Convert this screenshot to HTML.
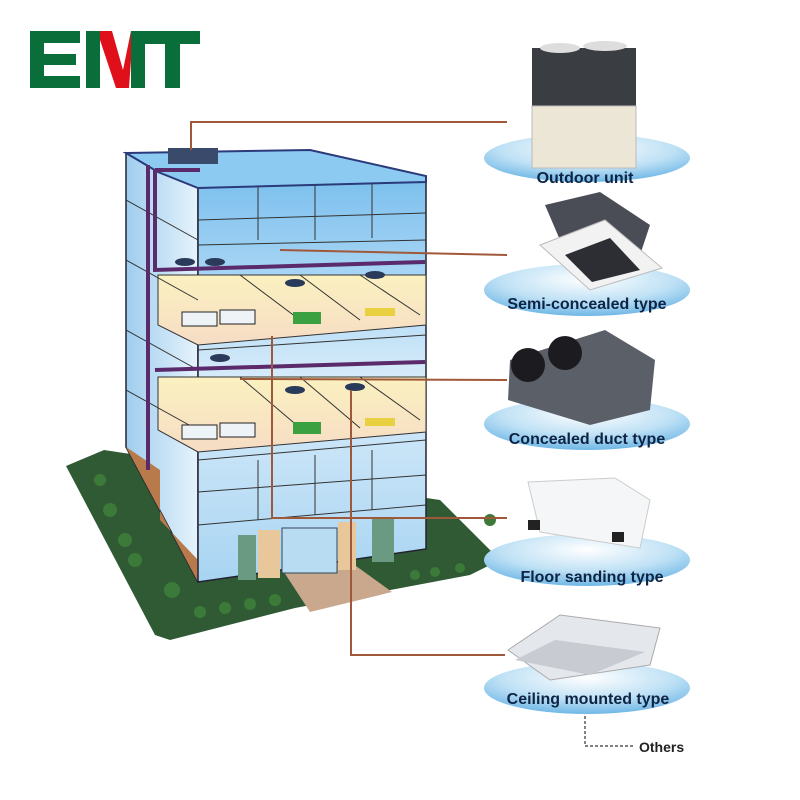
<!DOCTYPE html>
<html><head><meta charset="utf-8"><style>
html,body{margin:0;padding:0;background:#fff;}
svg{display:block;}
text{font-family:"Liberation Sans",sans-serif;}
</style></head><body>
<svg width="800" height="800" viewBox="0 0 800 800" xmlns="http://www.w3.org/2000/svg">
<defs>
<linearGradient id="glass" x1="0" y1="0" x2="0" y2="1">
<stop offset="0" stop-color="#7cc0ee"/><stop offset="0.5" stop-color="#d8ecfa"/><stop offset="1" stop-color="#a8d4f2"/>
</linearGradient>
<linearGradient id="glass2" x1="0" y1="0" x2="1" y2="0">
<stop offset="0" stop-color="#9fcdee"/><stop offset="1" stop-color="#e6f3fc"/>
</linearGradient>
<radialGradient id="ell" cx="0.5" cy="0.3" r="0.7">
<stop offset="0" stop-color="#ffffff"/><stop offset="0.6" stop-color="#bfe1f5"/><stop offset="1" stop-color="#6fb7e6"/>
</radialGradient>
<linearGradient id="floor" x1="0" y1="0" x2="0" y2="1">
<stop offset="0" stop-color="#fbf1c0"/><stop offset="1" stop-color="#f6dcc4"/>
</linearGradient>
</defs>

<!-- logo -->
<g fill="#0a6e3a">
<rect x="30" y="31" width="14" height="57"/>
<rect x="30" y="31" width="50" height="12"/>
<rect x="30" y="54" width="46" height="11"/>
<rect x="30" y="76" width="50" height="12"/>
<rect x="86" y="31" width="14" height="57"/>
<rect x="131" y="31" width="14" height="57"/>
<rect x="145" y="31" width="55" height="13"/>
<rect x="165" y="31" width="15" height="57"/>
</g>
<polygon points="100,31 112,31 123,70 131,31 131,60 129,88 116,88 100,40" fill="#e0101a"/>
<text x="0" y="0" font-size="1" fill="#fff">EMT</text>

<!-- ground -->
<polygon points="66,466 104,450 440,500 500,560 470,575 295,608 170,640 155,635" fill="#2f5a34"/>
<polygon points="280,566 345,558 392,592 310,612" fill="#c9a88e"/>
<g fill="#3c7a3a">
<circle cx="100" cy="480" r="6"/><circle cx="110" cy="510" r="7"/><circle cx="125" cy="540" r="7"/><circle cx="135" cy="560" r="7"/><circle cx="172" cy="590" r="8"/><circle cx="200" cy="612" r="6"/><circle cx="225" cy="608" r="6"/><circle cx="250" cy="604" r="6"/><circle cx="275" cy="600" r="6"/><circle cx="415" cy="575" r="5"/><circle cx="435" cy="572" r="5"/><circle cx="460" cy="568" r="5"/><circle cx="490" cy="520" r="6"/>
</g>

<!-- building left face -->
<polygon points="126,153 158,172 198,188 198,582 126,447" fill="url(#glass2)" stroke="#223" stroke-width="1.5"/>
<polygon points="126,447 160,470 160,520 198,560 198,582" fill="#b87a4a"/>
<!-- front face -->
<polygon points="198,188 426,180 426,549 198,582" fill="url(#glass)" stroke="#223" stroke-width="1.5"/>
<!-- roof -->
<polygon points="126,153 310,150 426,176 426,182 198,188 158,172" fill="#8ccaf2" stroke="#2a3a7a" stroke-width="2"/>
<!-- floors yellow -->
<polygon points="158,275 426,275 426,325 198,345 158,325" fill="url(#floor)" stroke="#333" stroke-width="1"/>
<polygon points="158,377 426,377 426,432 198,452 158,430" fill="url(#floor)" stroke="#333" stroke-width="1"/>
<g stroke="#333" stroke-width="1" fill="none">
<line x1="240" y1="275" x2="300" y2="320"/><line x1="300" y1="275" x2="360" y2="320"/><line x1="360" y1="275" x2="420" y2="315"/>
<line x1="240" y1="377" x2="300" y2="428"/><line x1="300" y1="377" x2="360" y2="428"/><line x1="360" y1="377" x2="420" y2="420"/>
<line x1="198" y1="220" x2="426" y2="213"/><line x1="198" y1="245" x2="426" y2="240"/>
<line x1="198" y1="350" x2="426" y2="335"/><line x1="198" y1="460" x2="426" y2="440"/>
<line x1="198" y1="492" x2="426" y2="475"/><line x1="198" y1="525" x2="426" y2="505"/>
<line x1="258" y1="187" x2="258" y2="240"/><line x1="315" y1="185" x2="315" y2="240"/><line x1="372" y1="183" x2="372" y2="238"/>
<line x1="258" y1="460" x2="258" y2="520"/><line x1="315" y1="455" x2="315" y2="515"/><line x1="372" y1="450" x2="372" y2="510"/>
<line x1="126" y1="200" x2="198" y2="240"/><line x1="126" y1="260" x2="198" y2="300"/><line x1="126" y1="330" x2="198" y2="370"/><line x1="126" y1="390" x2="198" y2="430"/>
</g>
<!-- entrance -->
<rect x="238" y="535" width="18" height="45" fill="#6a9a82"/>
<rect x="258" y="530" width="22" height="48" fill="#e8c89a"/>
<rect x="282" y="528" width="55" height="45" fill="#b8dcf2" stroke="#345" stroke-width="1"/>
<rect x="338" y="522" width="18" height="48" fill="#e8c89a"/>
<rect x="372" y="517" width="22" height="45" fill="#6a9a82"/>
<!-- units on roof -->
<rect x="168" y="148" width="50" height="16" fill="#3a4a6a"/>
<!-- purple pipes -->
<g stroke="#5a2a6a" stroke-width="4" fill="none">
<polyline points="148,165 148,470"/>
<polyline points="155,170 155,270 425,262"/>
<polyline points="155,370 425,362"/>
<polyline points="155,170 200,170"/>
</g>
<g fill="#2a3a5a">
<ellipse cx="185" cy="262" rx="10" ry="4"/><ellipse cx="215" cy="262" rx="10" ry="4"/><ellipse cx="295" cy="283" rx="10" ry="4"/><ellipse cx="375" cy="275" rx="10" ry="4"/>
<ellipse cx="220" cy="358" rx="10" ry="4"/><ellipse cx="295" cy="390" rx="10" ry="4"/><ellipse cx="355" cy="387" rx="10" ry="4"/>
</g>
<g fill="#eef3f8" stroke="#222">
<rect x="182" y="312" width="35" height="14"/><rect x="220" y="310" width="35" height="14"/>
<rect x="182" y="425" width="35" height="14"/><rect x="220" y="423" width="35" height="14"/>
</g>
<g fill="#3aa040"><rect x="293" y="312" width="28" height="12"/><rect x="293" y="422" width="28" height="12"/></g>
<g fill="#e8d040"><rect x="365" y="308" width="30" height="8"/><rect x="365" y="418" width="30" height="8"/></g>

<!-- connectors -->
<g stroke="#a0583a" stroke-width="2" fill="none">
<polyline points="191,150 191,122 507,122"/>
<polyline points="280,250 507,255"/>
<polyline points="240,379 507,380"/>
<polyline points="272,336 272,518 507,518"/>
<polyline points="351,390 351,655 505,655"/>
</g>

<!-- ellipses -->
<ellipse cx="587" cy="158" rx="103" ry="24" fill="url(#ell)"/>
<ellipse cx="587" cy="290" rx="103" ry="26" fill="url(#ell)"/>
<ellipse cx="587" cy="424" rx="103" ry="26" fill="url(#ell)"/>
<ellipse cx="587" cy="560" rx="103" ry="26" fill="url(#ell)"/>
<ellipse cx="587" cy="688" rx="103" ry="26" fill="url(#ell)"/>

<!-- outdoor unit -->
<rect x="532" y="48" width="104" height="66" fill="#3a3d42"/>
<rect x="532" y="106" width="104" height="62" fill="#ece6d6" stroke="#bbb"/>
<ellipse cx="560" cy="48" rx="20" ry="5" fill="#ddd"/><ellipse cx="605" cy="46" rx="22" ry="5" fill="#ddd"/>
<!-- cassette -->
<polygon points="545,205 600,192 650,225 640,255 560,240" fill="#4a4d55"/>
<polygon points="540,245 605,220 662,268 590,290" fill="#f2f2f2" stroke="#bbb"/>
<polygon points="565,255 610,238 640,270 592,282" fill="#2c2e33"/>
<!-- concealed duct -->
<polygon points="510,360 605,330 655,360 650,410 590,425 508,400" fill="#5b5f68"/>
<circle cx="528" cy="365" r="17" fill="#1c1c20"/><circle cx="565" cy="353" r="17" fill="#1c1c20"/>
<!-- floor standing -->
<polygon points="528,482 615,478 650,500 640,548 540,532" fill="#f4f6f8" stroke="#ccc"/>
<rect x="528" y="520" width="12" height="10" fill="#222"/><rect x="612" y="532" width="12" height="10" fill="#222"/>
<!-- ceiling mounted -->
<polygon points="508,650 560,615 660,628 650,665 550,680" fill="#e4e8ec" stroke="#aaa"/>
<polygon points="515,660 555,640 645,652 590,675" fill="#c8ccd2"/>

<g font-size="16" font-weight="bold" fill="#0e2444" text-anchor="middle">
<text x="585" y="183">Outdoor unit</text>
<text x="587" y="309">Semi-concealed type</text>
<text x="587" y="444">Concealed duct type</text>
<text x="592" y="582">Floor sanding type</text>
<text x="588" y="704">Ceiling mounted type</text>
</g>
<polyline points="585,716 585,746 634,746" stroke="#333" stroke-width="1.2" stroke-dasharray="3,2" fill="none"/>
<text x="639" y="752" font-size="14" font-weight="bold" fill="#222">Others</text>
</svg>
</body></html>
